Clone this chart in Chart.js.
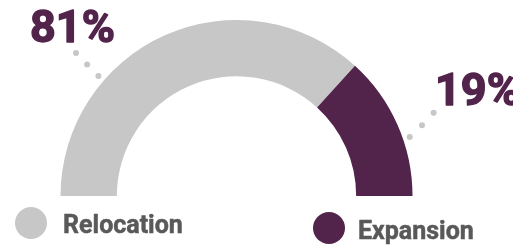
<!DOCTYPE html>
<html lang="en">
    <head>
        <meta charset="UTF-8">
        <title>Relocation vs Expansion</title>
        <script src="https://cdn.jsdelivr.net/npm/chart.js@4.4.0/dist/chart.umd.min.js"></script>
        <style>
            body { margin: 0; background: #fff; }
            .chart-div { position: relative; width: 513px; height: 245px; }
        </style>
    </head>
    <body>
        <script>
            // values
            let categories = ["Relocation", "Expansion"];
            let percentLabels = ["81%", "19%"];
            // share of the half ring each slice actually takes in the picture
            let arcShares = [73.5, 26.5];
            let sliceColors = ["#c8c7c8", "#53244b"];
        </script>
        <div class="chart-div">
            <canvas id="gauge"></canvas>
        </div>
        <script>
            const TEXT_GRAY = "#595959";
            const DOT_GRAY = "#c8c7c8";

            // percent labels with dotted leaders, plus the custom legend
            const labelPlugin = {
                id: 'labelPlugin',
                afterDraw(chart) {
                    const ctx = chart.ctx;
                    const arcs = chart.getDatasetMeta(0).data;
                    const cx = arcs[0].x, cy = arcs[0].y;

                    // leaders: [start angle, start r, end angle, end r] (deg, px)
                    const leaders = [
                        [139, 183, 138.3, 215],
                        [18.8, 183, 22.9, 214]
                    ];
                    ctx.save();
                    ctx.fillStyle = DOT_GRAY;
                    leaders.forEach(l => {
                        for (let k = 0; k < 3; k++) {
                            let a = (l[0] + (l[2] - l[0]) * k / 2) * Math.PI / 180;
                            let r = l[1] + (l[3] - l[1]) * k / 2;
                            ctx.beginPath();
                            ctx.arc(cx + r * Math.cos(a), cy - r * Math.sin(a), 3, 0, Math.PI * 2);
                            ctx.fill();
                        }
                    });

                    ctx.fillStyle = sliceColors[1];
                    ctx.strokeStyle = sliceColors[1];
                    ctx.lineWidth = 1.4;
                    ctx.lineJoin = "round";
                    ctx.font = "bold 45px Roboto";
                    ctx.textBaseline = "alphabetic";
                    ctx.textAlign = "left";
                    ctx.fillText(percentLabels[0], 30, 42);
                    ctx.strokeText(percentLabels[0], 30, 42);
                    ctx.fillText(percentLabels[1], 435, 105);
                    ctx.strokeText(percentLabels[1], 435, 105);

                    // legend
                    const legendPos = [[31, 223, 63, 233], [329, 228, 358, 239]];
                    ctx.font = "bold 25px Roboto";
                    ctx.lineWidth = 0.5;
                    categories.forEach((c, i) => {
                        let p = legendPos[i];
                        ctx.fillStyle = sliceColors[i];
                        ctx.beginPath();
                        ctx.arc(p[0], p[1], 16, 0, Math.PI * 2);
                        ctx.fill();
                        ctx.fillStyle = TEXT_GRAY;
                        ctx.strokeStyle = TEXT_GRAY;
                        ctx.fillText(c, p[2], p[3]);
                        ctx.strokeText(c, p[2], p[3]);
                    });
                    ctx.restore();
                }
            };

            let gaugeChart = new Chart(document.getElementById('gauge').getContext('2d'), {
                type: 'doughnut',
                data: {
                    labels: categories,
                    datasets: [{
                        data: arcShares,
                        backgroundColor: sliceColors,
                        borderWidth: 0
                    }]
                },
                options: {
                    responsive: true,
                    maintainAspectRatio: false,
                    animation: false,
                    rotation: -90,
                    circumference: 180,
                    cutout: '68%',
                    layout: {
                        padding: { left: 60, right: 100, top: 20, bottom: 49 }
                    },
                    plugins: {
                        legend: { display: false },
                        tooltip: { enabled: false }
                    }
                },
                plugins: [labelPlugin]
            });
        </script>
    </body>
</html>
